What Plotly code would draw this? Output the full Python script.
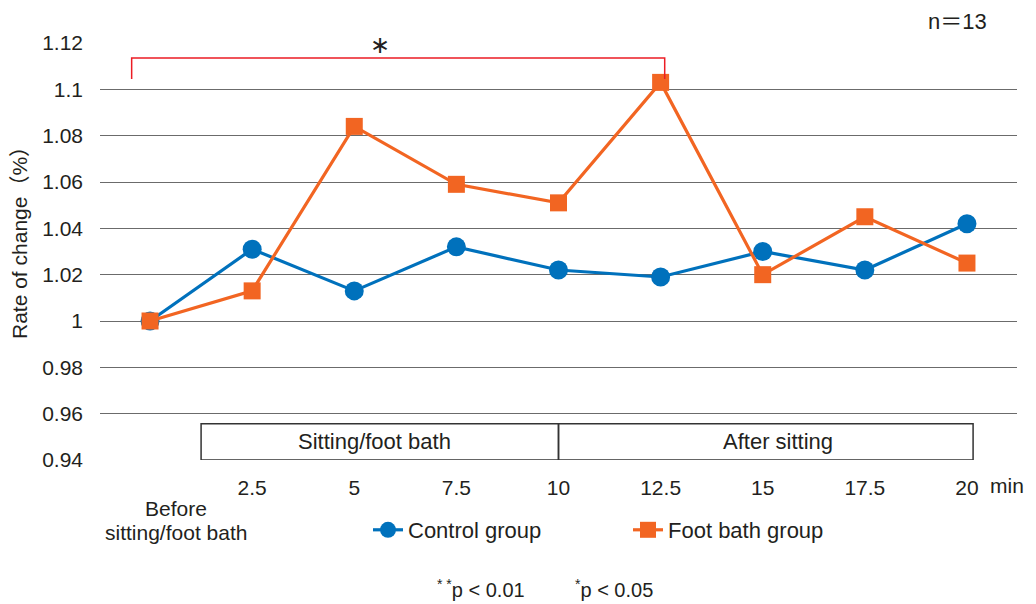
import plotly.graph_objects as go

categories = ["Before", "2.5", "5", "7.5", "10", "12.5", "15", "17.5", "20"]
tick_labels = ["Before<br>sitting/foot bath", "2.5", "5", "7.5", "10", "12.5", "15", "17.5", "20"]
control_group = [1.000, 1.031, 1.013, 1.032, 1.022, 1.019, 1.030, 1.022, 1.042]
foot_bath_group = [1.000, 1.013, 1.084, 1.059, 1.051, 1.103, 1.020, 1.045, 1.025]
y_ticks = [0.94, 0.96, 0.98, 1.0, 1.02, 1.04, 1.06, 1.08, 1.1, 1.12]
y_tick_text = ["0.94", "0.96", "0.98", "1", "1.02", "1.04", "1.06", "1.08", "1.1", "1.12"]
phase_labels = ["Sitting/foot bath", "After sitting"]

BLUE = "#0071bc"
ORANGE = "#f26522"
TXT = "#231f20"
FONT = "Liberation Sans, Arial, sans-serif"
CJK = "Liberation Sans, Noto Sans CJK JP"
FS = 22

# page body has an 8px margin: figure origin sits at (8, 8) on screen
OFF = 8
PL, PT, PW, PH = 100, 43, 917, 417  # plot area in screen pixels
FIG_W, FIG_H = 1036 - OFF, 604 - OFF


def px(xs):
    return (xs - PL) / PW


def py(ys):
    return (PT + PH - ys) / PH


fig = go.Figure()
fig.add_trace(go.Scatter(
    x=categories, y=control_group, name="Control group", mode="lines+markers",
    line=dict(color=BLUE, width=3.2),
    marker=dict(symbol="circle", size=19, color=BLUE),
))
fig.add_trace(go.Scatter(
    x=categories, y=foot_bath_group, name="Foot bath group", mode="lines+markers",
    line=dict(color=ORANGE, width=3.2),
    marker=dict(symbol="square", size=17, color=ORANGE),
))

# phase boxes below the curves
box_bottom, box_top = 0.94, 0.9557
fig.add_shape(type="rect", xref="x", yref="y", x0=0.5, x1=4.0, y0=box_bottom, y1=box_top,
              line=dict(color="#333333", width=1.5), fillcolor="rgba(255,255,255,0)", layer="above")
fig.add_shape(type="rect", xref="x", yref="y", x0=4.0, x1=8.06, y0=box_bottom, y1=box_top,
              line=dict(color="#333333", width=1.5), fillcolor="rgba(255,255,255,0)", layer="above")
fig.add_annotation(x=2.2, y=(box_bottom + box_top) / 2, xref="x", yref="y", text=phase_labels[0],
                   showarrow=False, xanchor="center", yanchor="middle",
                   font=dict(size=FS, color=TXT, family=FONT))
fig.add_annotation(x=6.15, y=(box_bottom + box_top) / 2, xref="x", yref="y", text=phase_labels[1],
                   showarrow=False, xanchor="center", yanchor="middle",
                   font=dict(size=FS, color=TXT, family=FONT))

# significance bracket
fig.add_shape(type="path", xref="x", yref="y",
              path="M -0.18,1.1045 L -0.18,1.1135 L 5.04,1.1135 L 5.04,1.1045",
              line=dict(color="#ec1c24", width=1.5), layer="above")
fig.add_annotation(x=2.25, y=1.12, xref="x", yref="y", text="∗", showarrow=False,
                   xanchor="center", yanchor="middle", yshift=-2,
                   font=dict(size=24, color=TXT, family="DejaVu Sans"))

# first category label (offset, two tight lines)
for i, line in enumerate(tick_labels[0].split("<br>")):
    fig.add_annotation(x=0, y=0.94, xref="x", yref="y", text=line, showarrow=False,
                       xanchor="center", yanchor="middle", xshift=26, yshift=-(48 + 24 * i),
                       font=dict(size=21, color=TXT, family=FONT))
fig.add_annotation(x=1.0, y=0.94, xref="paper", yref="y", text="min", showarrow=False,
                   xanchor="right", yanchor="middle", xshift=9, yshift=-25,
                   font=dict(size=21, color=TXT, family=FONT))
fig.add_annotation(x=px(989), y=py(21), xref="paper", yref="paper", text="n＝13",
                   showarrow=False, xanchor="right", yanchor="middle",
                   font=dict(size=FS, color=TXT, family=CJK))
fig.add_annotation(x=px(19), y=py(238), xref="paper", yref="paper",
                   text="Rate of change（%）", textangle=-90, showarrow=False,
                   xanchor="center", yanchor="middle",
                   font=dict(size=21, color=TXT, family=CJK))
fig.add_annotation(x=px(481), y=py(588), xref="paper", yref="paper",
                   text="<sup>* *</sup>p &lt; 0.01", showarrow=False,
                   xanchor="center", yanchor="middle",
                   font=dict(size=20, color=TXT, family=FONT))
fig.add_annotation(x=px(614), y=py(588), xref="paper", yref="paper",
                   text="<sup>*</sup>p &lt; 0.05", showarrow=False,
                   xanchor="center", yanchor="middle",
                   font=dict(size=20, color=TXT, family=FONT))

fig.update_layout(
    width=FIG_W, height=FIG_H,
    margin=dict(l=PL - OFF, r=FIG_W - (PL - OFF) - PW, t=PT - OFF, b=FIG_H - (PT - OFF) - PH),
    paper_bgcolor="white", plot_bgcolor="white",
    font=dict(family=FONT, size=FS, color=TXT),
    showlegend=True,
    legend=dict(orientation="h", x=px(628), xanchor="center",
                y=py(530), yanchor="middle",
                font=dict(size=FS, color=TXT), entrywidth=215, entrywidthmode="pixels",
                bgcolor="rgba(0,0,0,0)"),
    xaxis=dict(type="category", range=[-0.49, 8.49], tickmode="array",
               tickvals=categories, ticktext=[""] + tick_labels[1:],
               showgrid=False, zeroline=False, showline=False, ticks="",
               ticklabelstandoff=13, tickfont=dict(size=21, color=TXT)),
    yaxis=dict(range=[0.94, 1.12], tickmode="array", tickvals=y_ticks, ticktext=y_tick_text,
               showgrid=True, gridcolor="#6b6b6b", gridwidth=1.2, zeroline=False,
               showline=False, ticks="", ticklabelstandoff=16, tickfont=dict(size=21, color=TXT)),
)

fig.write_html("out.html")
